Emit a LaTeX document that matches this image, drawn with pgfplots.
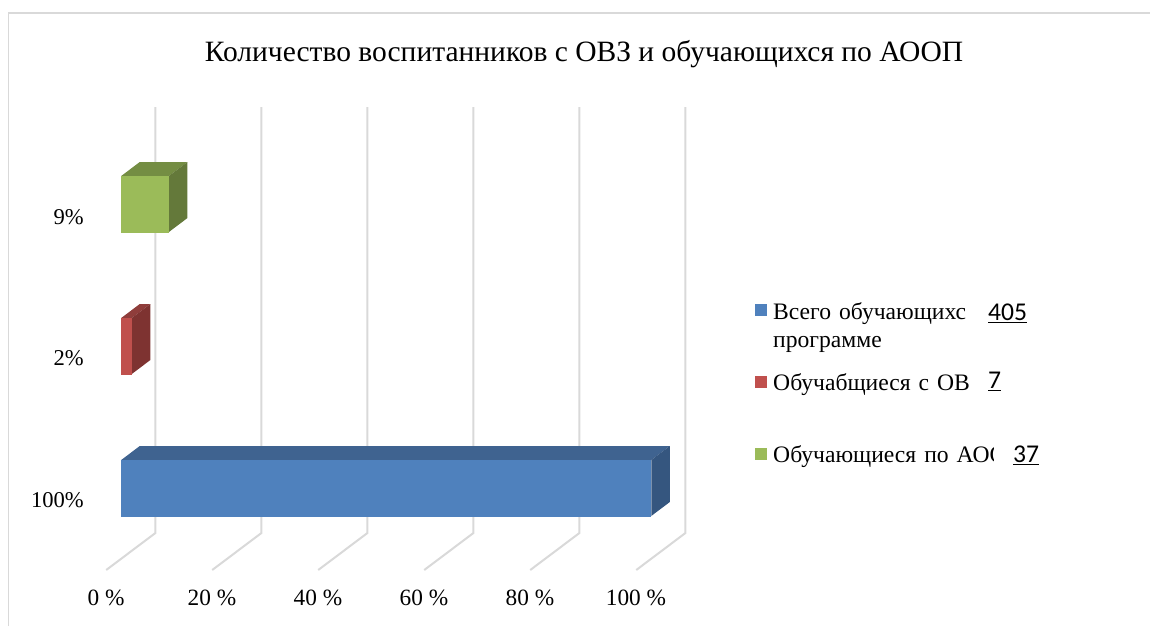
\documentclass[border=0pt]{standalone}
\usepackage{pgfplots}
\pgfplotsset{compat=1.18}
\usepackage{fontspec}
\setmainfont{Liberation Serif}
\newfontfamily\sansnum{Carlito}
\definecolor{bb}{HTML}{4F81BD}\definecolor{bt}{HTML}{3F6390}\definecolor{bs}{HTML}{35567F}
\definecolor{rb}{HTML}{C0504D}\definecolor{rt}{HTML}{8F3D3B}\definecolor{rs}{HTML}{7E3331}
\definecolor{gb}{HTML}{9BBB59}\definecolor{gt}{HTML}{748D43}\definecolor{gs}{HTML}{64793A}
\definecolor{gridc}{HTML}{D9D9D9}
\begin{document}
\begin{tikzpicture}[x=1pt,y=1pt]
\begin{axis}[
  at={(0,0)},anchor=south west,
  width=1150pt,height=626pt,scale only axis,
  xmin=-22.87,xmax=194.1,ymin=0,ymax=626,y dir=reverse,
  hide axis,clip=false,
  bar width=57pt,
]
% gridlines: back wall and floor
\addplot[sharp plot,gridc,line width=2pt,forget plot] coordinates {(6.45,107)(6.45,533)(-2.83,570)};
\addplot[sharp plot,gridc,line width=2pt,forget plot] coordinates {(26.45,107)(26.45,533)(17.17,570)};
\addplot[sharp plot,gridc,line width=2pt,forget plot] coordinates {(46.45,107)(46.45,533)(37.17,570)};
\addplot[sharp plot,gridc,line width=2pt,forget plot] coordinates {(66.45,107)(66.45,533)(57.17,570)};
\addplot[sharp plot,gridc,line width=2pt,forget plot] coordinates {(86.45,107)(86.45,533)(77.17,570)};
\addplot[sharp plot,gridc,line width=2pt,forget plot] coordinates {(106.45,107)(106.45,533)(97.17,570)};
% blue
\addplot[sharp plot,fill=bt,draw=none,forget plot] coordinates {(0,460)(100,460)(103.5,446)(3.5,446)} --cycle;
\addplot[sharp plot,fill=bs,draw=none,forget plot] coordinates {(100,460)(103.5,446)(103.5,502)(100,516)} --cycle;
\addplot[xbar,bar shift=0pt,fill=bb,draw=none,forget plot] coordinates {(100,488)};
% red
\addplot[sharp plot,fill=rt,draw=none,forget plot] coordinates {(0,318)(2,318)(5.5,304)(3.5,304)} --cycle;
\addplot[sharp plot,fill=rs,draw=none,forget plot] coordinates {(2,318)(5.5,304)(5.5,360)(2,374)} --cycle;
\addplot[xbar,bar shift=0pt,fill=rb,draw=none,forget plot] coordinates {(2,346)};
% green
\addplot[sharp plot,fill=gt,draw=none,forget plot] coordinates {(0,176)(9,176)(12.5,162)(3.5,162)} --cycle;
\addplot[sharp plot,fill=gs,draw=none,forget plot] coordinates {(9,176)(12.5,162)(12.5,218)(9,232)} --cycle;
\addplot[xbar,bar shift=0pt,fill=gb,draw=none,forget plot] coordinates {(9,204)};
\end{axis}
\path[use as bounding box] (0,0) rectangle (1150,626);
% frame
\draw[gridc,line width=1.5pt] (8.5,0) -- (8.5,613) -- (1150,613);
\node[font=\fontsize{29.5}{34}\selectfont,anchor=base] at (584,626-62) {Количество воспитанников с ОВЗ и обучающихся по АООП};
% category labels
\foreach \t/\x/\y in {9\%/84/225,2\%/84/366,100\%/84/508}
  \node[font=\fontsize{22.6}{28}\selectfont,anchor=base east,inner sep=0pt] at (\x,626-\y) {\t};
\foreach \t/\x in {0 \%/106,20 \%/212,40 \%/318,60 \%/424,80 \%/530,100 \%/636}
  \node[font=\fontsize{23.3}{28}\selectfont,anchor=base,inner sep=0pt] at (\x,626-606) {\t};
% legend
\fill[bb] (755,626-304) rectangle (767,626-316);
\fill[rb] (755,626-376) rectangle (767,626-388);
\fill[gb] (755,626-448) rectangle (767,626-460);
\node[font=\fontsize{23.6}{28}\selectfont,anchor=base west,inner sep=0pt] at (773,626-320) {\spaceskip=8pt Всего обучающихс};
\node[font=\fontsize{23.6}{28}\selectfont,anchor=base west,inner sep=0pt] at (773,626-391) {\spaceskip=8pt Обучабщиеся с ОВ};
\begin{scope}
\clip (770,0) rectangle (993,626);
\node[font=\fontsize{23.6}{28}\selectfont,anchor=base west,inner sep=0pt] at (773,626-463) {\spaceskip=8pt Обучающиеся по АОО};
\end{scope}
\node[font=\fontsize{23.6}{28}\selectfont,anchor=base west,inner sep=0pt] at (773,626-348) {программе};
\node[font=\sansnum\fontsize{25.6}{30}\selectfont,anchor=base west,inner sep=0pt] at (988,626-321) {\underline{405}};
\node[font=\sansnum\fontsize{25.6}{30}\selectfont,anchor=base west,inner sep=0pt] at (988,626-389) {\underline{7}};
\node[font=\sansnum\fontsize{25.6}{30}\selectfont,anchor=base west,inner sep=0pt] at (1013,626-463) {\underline{37}};
\end{tikzpicture}
\end{document}
